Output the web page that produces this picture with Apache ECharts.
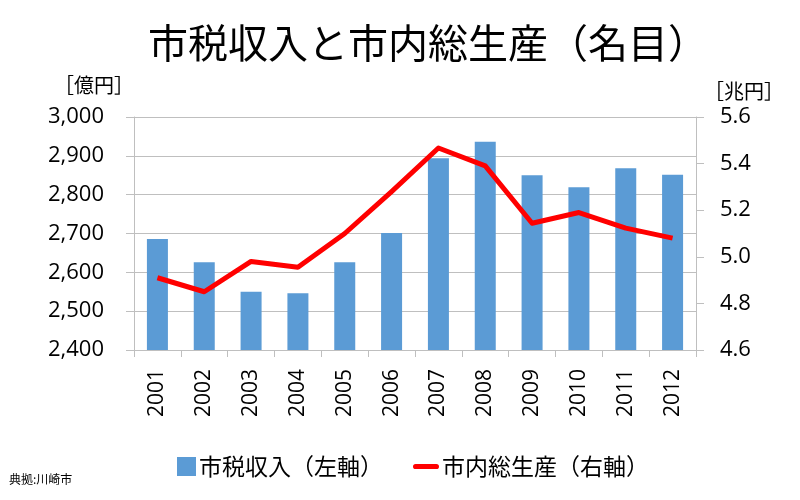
<!DOCTYPE html>
<html><head><meta charset="utf-8">
<script src="https://cdn.jsdelivr.net/npm/echarts@6/dist/echarts.min.js"></script>
<style>html,body{margin:0;padding:0;background:#fff}#c{width:800px;height:500px}</style>
</head><body><div id="c"></div>
<script>
const titleText = '市税収入と市内総生産（名目）';
const sourceText = '典拠:川崎市';
const years = ['2001','2002','2003','2004','2005','2006','2007','2008','2009','2010','2011','2012'];
const taxRevenue = [2686, 2626, 2550, 2546, 2626, 2701, 2894, 2936, 2850, 2819, 2868, 2851];
const grossProduct = [4.91, 4.85, 4.98, 4.955, 5.10, 5.28, 5.467, 5.39, 5.144, 5.19, 5.123, 5.08];
const seriesNames = ['市税収入（左軸）', '市内総生産（右軸）'];
const leftAxisName = '［億円］';
const rightAxisName = '［兆円］';

const jp = '"Noto Sans CJK JP", sans-serif';
const num = '"Open Sans", "Noto Sans", sans-serif';
const chart = echarts.init(document.getElementById('c'), null, {renderer: 'canvas'});
chart.setOption({
  animation: false,
  backgroundColor: '#fff',
  title: [
    {text: titleText, left: 143, top: 18, textStyle: {fontFamily: jp, fontSize: 40, fontWeight: 'normal', color: '#000'}},
    {text: sourceText, left: 4, bottom: 10, textStyle: {fontFamily: jp, fontSize: 12, fontWeight: 'normal', color: '#000'}}
  ],
  legend: [
    {data: [{name: seriesNames[0], icon: 'rect'}], left: 172, top: 450, itemWidth: 19, itemHeight: 19, itemGap: 4,
      textStyle: {fontFamily: jp, fontSize: 23, color: '#000', padding: [0,0,0,-2]}},
    {data: [{name: seriesNames[1], icon: 'path://M3,0 L27,0 A3,3 0 0 1 27,6 L3,6 A3,3 0 0 1 3,0 Z'}], left: 408, top: 450, itemWidth: 26, itemHeight: 6, itemGap: 4,
      textStyle: {fontFamily: jp, fontSize: 23, color: '#000', padding: [0,0,0,-2]}}
  ],
  grid: {left: 134, right: 104, top: 117, bottom: 150},
  xAxis: {
    type: 'category', data: years, boundaryGap: true,
    axisLine: {lineStyle: {color: '#bfbfbf'}},
    axisTick: {show: true, length: 7, lineStyle: {color: '#bfbfbf'}},
    axisLabel: {rotate: 90, fontFamily: num, fontSize: 21, color: '#000', margin: 19}
  },
  yAxis: [
    {type: 'value', min: 2400, max: 3000, interval: 100,
      name: leftAxisName, nameLocation: 'end', nameGap: 32,
      nameTextStyle: {fontFamily: jp, fontSize: 20, color: '#000', align: 'right', verticalAlign: 'middle', padding: [0, 0, 0, 0]},
      axisLine: {show: true, lineStyle: {color: '#bfbfbf'}},
      axisTick: {show: true, length: 8, lineStyle: {color: '#bfbfbf'}},
      splitLine: {lineStyle: {color: '#bfbfbf'}},
      axisLabel: {fontFamily: num, fontSize: 22, color: '#000', margin: 30,
        formatter: v => v.toLocaleString('en-US')}},
    {type: 'value', min: 4.6, max: 5.6, interval: 0.2,
      name: rightAxisName, nameLocation: 'end', nameGap: 26,
      nameTextStyle: {fontFamily: jp, fontSize: 20, color: '#000', align: 'left', verticalAlign: 'middle', padding: [0, 0, 0, 8]},
      axisLine: {show: true, lineStyle: {color: '#bfbfbf'}},
      axisTick: {show: true, length: 8, lineStyle: {color: '#bfbfbf'}},
      splitLine: {show: false},
      axisLabel: {fontFamily: num, fontSize: 22, color: '#000', margin: 24,
        formatter: v => v.toFixed(1)}}
  ],
  series: [
    {name: seriesNames[0], type: 'bar', data: taxRevenue, yAxisIndex: 0, barWidth: 21,
      itemStyle: {color: '#5b9bd5'}},
    {name: seriesNames[1], type: 'line', data: grossProduct, yAxisIndex: 1, symbol: 'none',
      lineStyle: {color: '#ff0000', width: 5, join: 'round'}, itemStyle: {color: '#ff0000'}}
  ]
});
</script></body></html>
